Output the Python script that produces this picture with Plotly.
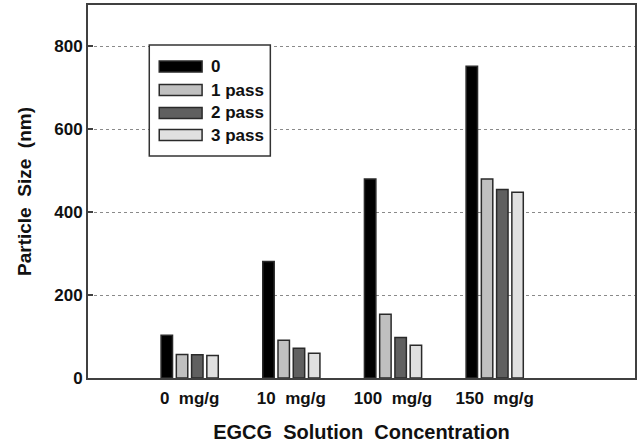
import plotly.graph_objects as go

categories = ["0  mg/g", "10  mg/g", "100  mg/g", "150  mg/g"]
series_names = ["0", "1 pass", "2 pass", "3 pass"]
pass0 = [103, 281, 480, 752]
pass1 = [57, 91, 154, 480]
pass2 = [56, 72, 98, 455]
pass3 = [54, 60, 79, 448]
series_values = [pass0, pass1, pass2, pass3]
colors = ["#000000", "#c0c0c0", "#606060", "#e0e0e0"]
y_ticks = [0, 200, 400, 600, 800]

FONT = "Liberation Sans, Arial, Helvetica, sans-serif"
W, H = 639, 443
ML, MR, MT, MB = 88, 2, 5, 65
PW, PH = W - ML - MR, H - MT - MB

fig = go.Figure()
for name, vals, col in zip(series_names, series_values, colors):
    fig.add_trace(go.Bar(
        x=categories, y=vals, name=name,
        marker=dict(color=col, line=dict(color="#2a2a2a", width=1.5)),
        showlegend=False,
    ))

def px(x):
    return (x - ML) / PW

def py(y):
    return (H - MB - y) / PH

shapes = []
annotations = []
# legend box
shapes.append(dict(type="rect", xref="paper", yref="paper",
                   x0=px(149.5), x1=px(271), y0=py(156), y1=py(45),
                   line=dict(color="#333333", width=1.5), fillcolor="white", layer="above"))
row_y = [66.5, 90, 113, 135]
for name, col, cy in zip(series_names, colors, row_y):
    shapes.append(dict(type="rect", xref="paper", yref="paper",
                       x0=px(159.5), x1=px(202.5), y0=py(cy + 5.5), y1=py(cy - 5.5),
                       line=dict(color="#2a2a2a", width=1.5), fillcolor=col, layer="above"))
    annotations.append(dict(xref="paper", yref="paper", x=px(209), y=py(cy),
                            xanchor="left", yanchor="middle", showarrow=False,
                            text=name, font=dict(family=FONT, size=17, color="#111111", weight="bold")))

fig.update_layout(
    width=W, height=H,
    margin=dict(l=ML, r=MR, t=MT, b=MB),
    paper_bgcolor="white", plot_bgcolor="white",
    barmode="group", bargap=0.4, bargroupgap=0.25,
    shapes=shapes, annotations=annotations,
    font=dict(family=FONT, color="#111111"),
)
fig.update_xaxes(
    type="category", range=[-1, 4.38],
    showline=True, linecolor="#404040", linewidth=2, mirror=True,
    showgrid=False, ticks="",
    ticklabelstandoff=4,
    tickfont=dict(family=FONT, size=17, weight="bold", color="#111111"),
    title=dict(text="EGCG  Solution  Concentration",
               font=dict(family=FONT, size=20, weight="bold", color="#111111"),
               standoff=18),
)
fig.update_yaxes(
    range=[0, 900], tickvals=y_ticks,
    showline=True, linecolor="#404040", linewidth=2, mirror=True,
    showgrid=True, gridcolor="#8a8a8a", griddash="dot", gridwidth=1,
    ticks="inside", ticklen=5, tickcolor="#404040", tickwidth=1.5,
    zeroline=False,
    tickfont=dict(family=FONT, size=17, weight="bold", color="#111111"),
    title=dict(text="Particle  Size  (nm)",
               font=dict(family=FONT, size=19, weight="bold", color="#111111"),
               standoff=18),
)

fig.write_html("out.html", config={"displayModeBar": False},
               post_script="document.body.style.margin='0';")
